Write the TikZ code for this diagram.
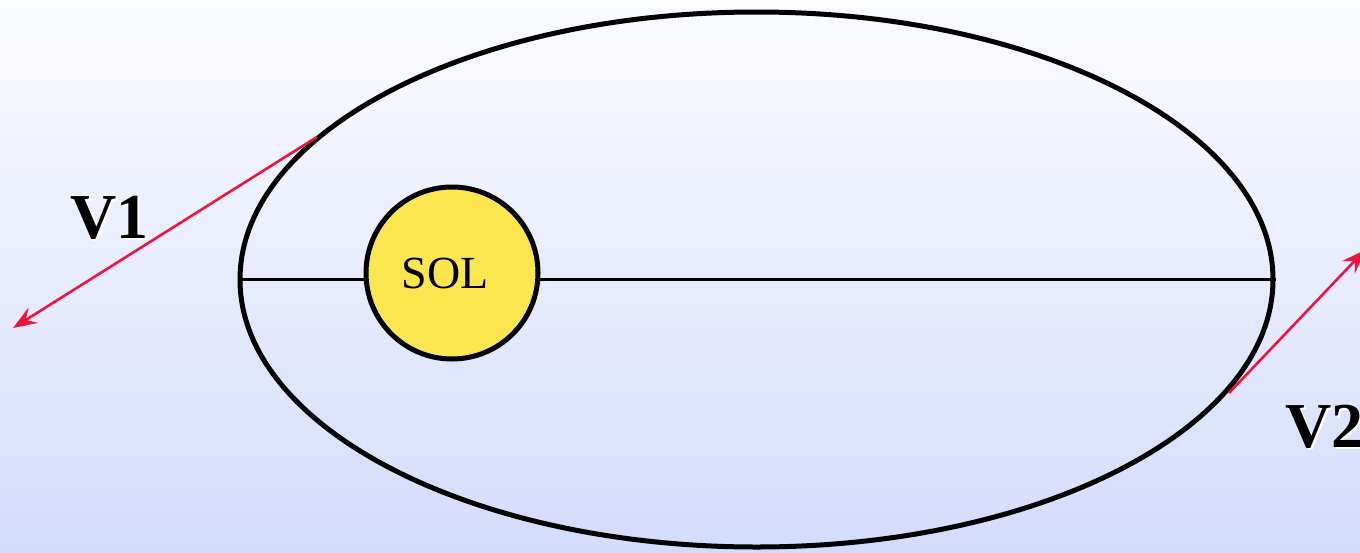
\documentclass[tikz,border=0pt]{standalone}
\usepackage{fontspec}
\setmainfont{Liberation Serif}
\usetikzlibrary{shapes.geometric,arrows.meta}
\definecolor{bgtop}{RGB}{251,252,255}
\definecolor{bgbot}{RGB}{212,220,252}
\definecolor{sunfill}{RGB}{251,230,80}
\definecolor{vecred}{RGB}{240,20,60}
\tikzset{
  vecarrow/.style={draw=vecred,line width=2.6pt,-{Stealth[length=24pt,width=18pt,inset=9pt]}},
  vlabel/.style={font=\fontsize{64}{64}\selectfont\bfseries,inner sep=0pt,anchor=base west},
}
\begin{document}
\begin{tikzpicture}[x=1pt,y=-1pt]
\shade[top color=bgtop,bottom color=bgbot] (0,0) rectangle (1360,552);
\useasboundingbox (0,0) rectangle (1360,552);
\node[ellipse,draw,line width=5pt,minimum width=1033pt,minimum height=535pt,inner sep=0pt] (orbit) at (756.5,279.5) {};
\draw[line width=3pt] (orbit.west) -- (orbit.east);
\node[circle,draw,line width=5pt,fill=sunfill,minimum size=172pt,inner sep=0pt] (sol) at (452,273) {};
\node[font=\fontsize{46}{46}\selectfont,inner sep=0pt] (soltext) at (445,273) {SOL};
\coordinate (v1s) at (317,137);
\coordinate (v1e) at (13,328);
\coordinate (v2s) at (1229,393);
\coordinate (v2e) at (1365,250);
\begin{scope}
\clip (0,0) rectangle (1360,552);
\draw[vecarrow] (v1s) -- (v1e);
\draw[vecarrow] (v2s) -- (v2e);
\node[vlabel,white] (v1shadow) at (72,240) {V1};
\node[vlabel] (v1) at (70,238) {V1};
\node[vlabel,white] (v2shadow) at (1287,449) {V2};
\node[vlabel] (v2) at (1285,447) {V2};
\end{scope}
\end{tikzpicture}
\end{document}
